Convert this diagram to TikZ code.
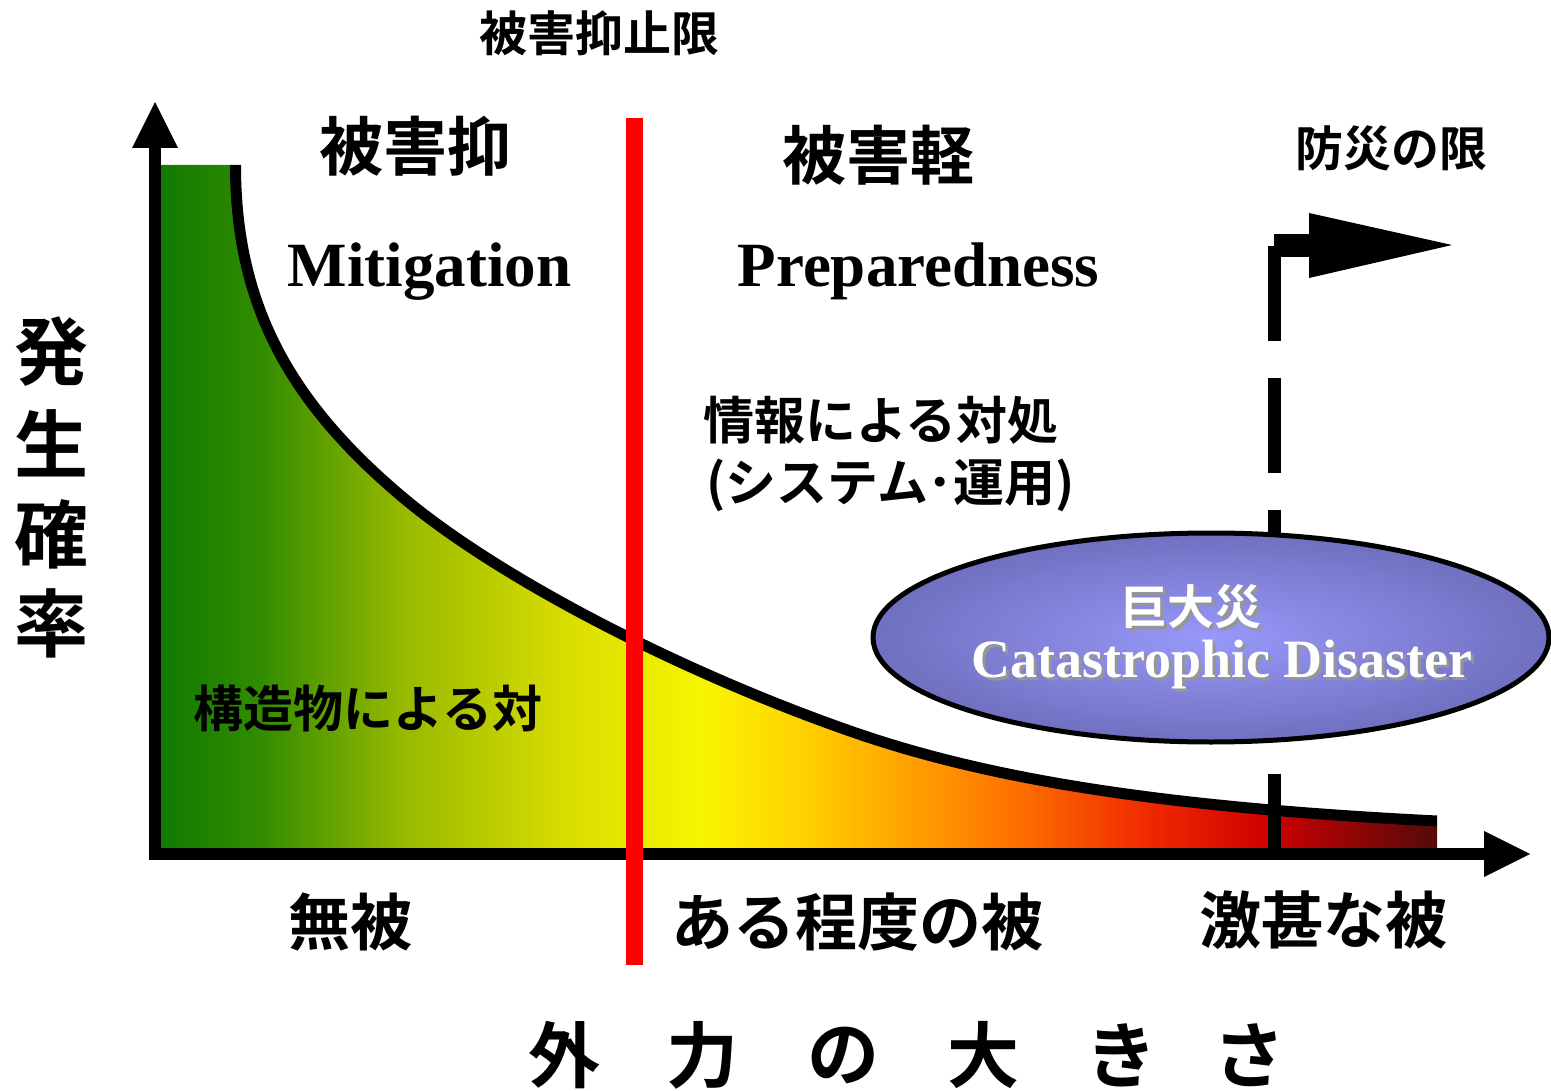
\documentclass[tikz,border=0pt]{standalone}
\usepackage{fontspec}
\setmainfont{Liberation Serif}
\newfontfamily\jpb{Noto Sans CJK JP Bold}
\newcommand\fsz[1]{\fontsize{#1}{#1}\selectfont}
\definecolor{g0}{RGB}{16,122,0}
\definecolor{g1}{RGB}{50,140,0}
\definecolor{g2}{RGB}{150,185,0}
\definecolor{g3}{RGB}{215,220,0}
\definecolor{g4}{RGB}{248,245,0}
\definecolor{g5}{RGB}{255,210,0}
\definecolor{g6}{RGB}{255,120,0}
\definecolor{g7}{RGB}{240,40,0}
\definecolor{g8}{RGB}{205,0,0}
\definecolor{g9}{RGB}{85,10,10}
\definecolor{elin}{RGB}{152,152,250}
\definecolor{elout}{RGB}{112,112,192}
\definecolor{shadowgray}{RGB}{150,150,150}
\tikzset{
  jt/.style={inner sep=0pt, font=\jpb\fsz{#1}},
  lt/.style={inner sep=0pt, font=\bfseries\fsz{#1}},
  curveline/.style={line width=11pt, line cap=butt},
  axisline/.style={line width=12pt},
  redline/.style={draw=red, line width=17pt},
}
\begin{document}
\begin{tikzpicture}[x=1pt,y=-1pt]
\useasboundingbox (0,0) rectangle (1551,1091);

% gradient fill under the curve
\begin{scope}
\clip (160,165) -- (235.5,165) .. controls (235.5,305) and (290,401.5) .. (400,495) .. controls (494,575) and (674,669.4) .. (850,731) .. controls (991,780.4) and (1167,807.5) .. (1437,821) -- (1437,848) -- (160,848) -- cycle;
\shade[left color=g0,right color=g1] (159,150) rectangle (261,860);
\shade[left color=g1,right color=g2] (260,150) rectangle (401,860);
\shade[left color=g2,right color=g3] (400,150) rectangle (561,860);
\shade[left color=g3,right color=g4] (560,150) rectangle (701,860);
\shade[left color=g4,right color=g5] (700,150) rectangle (801,860);
\shade[left color=g5,right color=g6] (800,150) rectangle (1001,860);
\shade[left color=g6,right color=g7] (1000,150) rectangle (1151,860);
\shade[left color=g7,right color=g8] (1150,150) rectangle (1271,860);
\shade[left color=g8,right color=g9] (1270,150) rectangle (1438,860);
\end{scope}

% curve
\coordinate (cstart) at (235.5,165);
\coordinate (cend) at (1437,821);
\draw[curveline] (cstart) .. controls (235.5,305) and (290,401.5) .. (400,495) .. controls (494,575) and (674,669.4) .. (850,731) .. controls (991,780.4) and (1167,807.5) .. (cend);

% dashed limit line with elbow arrow
\coordinate (dtop) at (1274.5,246);
\coordinate (dbot) at (1274.5,854);
\draw[line width=13pt, dash pattern=on 95pt off 37pt] (dtop) -- (dbot);
\fill (1268,246) rectangle (1281,262);
\fill (1274,234) rectangle (1311,257);
\fill (1309,213) -- (1452,245) -- (1309,278) -- cycle;

% ellipse
\coordinate (ec) at (1211,637.5);
\shade[inner color=elin, outer color=elout] (ec) ellipse [x radius=338pt, y radius=104.5pt];
\draw[line width=5pt] (ec) ellipse [x radius=338pt, y radius=104.5pt];
\node[jt=47, text=shadowgray] at (1194,610) {巨大災};
\node[jt=47, text=white] (ejp) at (1191,607) {巨大災};
\node[lt=54, text=shadowgray, anchor=base] at (1225,680) {Catastrophic Disaster};
\node[lt=54, text=white, anchor=base] (een) at (1222,677) {Catastrophic Disaster};

% red line
\coordinate (rtop) at (634.5,118);
\coordinate (rbot) at (634.5,965);

% axes
\coordinate (ytop) at (155,146);
\coordinate (xend) at (1486,854);
\draw[axisline] (155,860) -- (ytop);
\fill (132,148) -- (155,102) -- (178,148) -- cycle;
\draw[axisline] (149,854) -- (xend);
\fill (1484,831) -- (1530,854) -- (1484,877) -- cycle;
\draw[redline] (rtop) -- (rbot);

% texts
\node[jt=48] (t1) at (599,33) {被害抑止限};
\node[jt=64] (t2) at (415,146) {被害抑};
\node[jt=64] (t3) at (878,155) {被害軽};
\node[jt=48] (t4) at (1391,148) {防災の限};
\node[lt=63, anchor=base] (mit) at (429.5,287) {Mitigation};
\node[lt=63, anchor=base] (prep) at (918.5,287) {Preparedness};
\node[jt=74] (y1) at (52,352) {発};
\node[jt=74] (y2) at (52,443) {生};
\node[jt=74] (y3) at (52,534) {確};
\node[jt=74] (y4) at (52,623) {率};
\node[jt=51, anchor=west] (inf1) at (703,420) {情報による対処};
\node[jt=51, anchor=west] (inf2) at (706,485) {(システム･運用)};
\node[jt=50] (str) at (368,708) {構造物による対};
\node[jt=62] (b1) at (350,922) {無被};
\node[jt=62] (b2) at (857,922) {ある程度の被};
\node[jt=62] (b3) at (1323,920) {激甚な被};
\node[jt=72] (x1) at (564,1055) {外};
\node[jt=72] (x2) at (702,1055) {力};
\node[jt=72] (x3) at (843,1055) {の};
\node[jt=72] (x4) at (983,1055) {大};
\node[jt=72] (x5) at (1121,1055) {き};
\node[jt=72] (x6) at (1249,1055) {さ};
\end{tikzpicture}
\end{document}
